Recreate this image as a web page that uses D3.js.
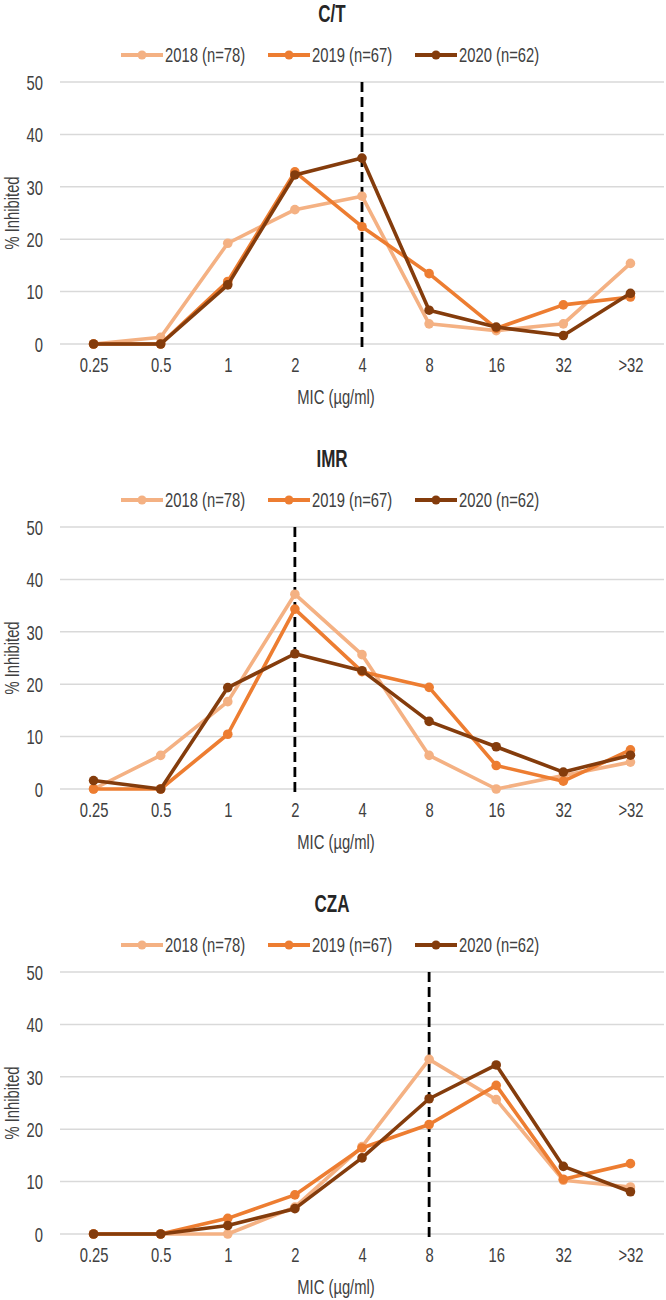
<!DOCTYPE html>
<html>
<head>
<meta charset="utf-8">
<script src="https://cdn.jsdelivr.net/npm/d3@7"></script>
<style>
  html, body { margin: 0; padding: 0; background: #fff; }
  svg { display: block; }
  text { font-family: "Liberation Sans", Arial, sans-serif; fill: #333; }
</style>
</head>
<body>
<svg id="chart" width="666" height="1300"></svg>
<script>
// ---------------- data ----------------
const categories = ["0.25", "0.5", "1", "2", "4", "8", "16", "32", ">32"];
const seriesNames = ["2018 (n=78)", "2019 (n=67)", "2020 (n=62)"];
const seriesColors = ["#F4B183", "#ED7D31", "#843C0C"];
const panelTitles = ["C/T", "IMR", "CZA"];
const breakpoints = ["4", "2", "8"];
const yTicks = [0, 10, 20, 30, 40, 50];
const xAxisTitle = "MIC (µg/ml)";
const yAxisTitle = "% Inhibited";

// C/T
const ct2018 = [0, 1.28, 19.23, 25.64, 28.21, 3.85, 2.56, 3.85, 15.38];
const ct2019 = [0, 0, 11.94, 32.84, 22.39, 13.43, 2.99, 7.46, 8.96];
const ct2020 = [0, 0, 11.29, 32.26, 35.48, 6.45, 3.23, 1.61, 9.68];
// IMR
const imr2018 = [0, 6.41, 16.67, 37.18, 25.64, 6.41, 0, 2.56, 5.13];
const imr2019 = [0, 0, 10.45, 34.33, 22.39, 19.40, 4.48, 1.49, 7.46];
const imr2020 = [1.61, 0, 19.35, 25.81, 22.58, 12.90, 8.06, 3.23, 6.45];
// CZA
const cza2018 = [0, 0, 0, 5.13, 16.67, 33.33, 25.64, 10.26, 8.97];
const cza2019 = [0, 0, 2.99, 7.46, 16.42, 20.90, 28.36, 10.45, 13.43];
const cza2020 = [0, 0, 1.61, 4.84, 14.52, 25.81, 32.26, 12.90, 8.06];

const panelData = [
  [ct2018, ct2019, ct2020],
  [imr2018, imr2019, imr2020],
  [cza2018, cza2019, cza2020]
];

// ---------------- layout ----------------
const SX = 0.74;           // narrow font look
const FS = 20;
const TXT = "#404040";
const panelH = 445;
const plotLeft = 60, plotRight = 664;
const plotTop = 82, plotBottom = 344;

const svg = d3.select("#chart");

const x = d3.scalePoint().domain(categories).range([plotLeft, plotRight]).padding(0.5);
const y = d3.scaleLinear().domain([0, 50]).range([plotBottom, plotTop]);

function ctext(g, tx, ty, str, opts = {}) {
  const rot = opts.rotate ? ` rotate(${opts.rotate})` : "";
  return g.append("text")
    .attr("transform", `translate(${tx},${ty})${rot} scale(${SX},1)`)
    .attr("text-anchor", opts.anchor || "middle")
    .attr("dominant-baseline", "central")
    .style("font-size", (opts.size || FS) + "px")
    .style("font-weight", opts.bold ? "bold" : "normal")
    .style("fill", opts.fill || TXT)
    .text(str);
}

panelData.forEach((series, pi) => {
  const g = svg.append("g").attr("transform", `translate(0,${pi * panelH})`);

  // title
  ctext(g, 332, 14, panelTitles[pi], { bold: true, size: 23, fill: "#262626" });

  // legend
  const legX = [121, 268, 415];
  seriesNames.forEach((name, si) => {
    const lg = g.append("g").attr("transform", `translate(${legX[si]},55)`);
    lg.append("line").attr("x1", 0).attr("x2", 42).attr("y1", 0).attr("y2", 0)
      .attr("stroke", seriesColors[si]).attr("stroke-width", 4);
    lg.append("circle").attr("cx", 21).attr("cy", 0).attr("r", 4.5).attr("fill", seriesColors[si]);
    ctext(lg, 44, 0, name, { anchor: "start" });
  });

  // gridlines
  g.append("g").selectAll("line").data(yTicks).join("line")
    .attr("x1", plotLeft).attr("x2", plotRight)
    .attr("y1", d => y(d)).attr("y2", d => y(d))
    .attr("stroke", "#D9D9D9").attr("stroke-width", 1.5);

  // y axis
  const ya = g.append("g").attr("transform", `translate(${plotLeft},0)`)
    .call(d3.axisLeft(y).tickValues(yTicks).tickSize(0).tickPadding(23));
  ya.select(".domain").remove();
  ya.selectAll("text")
    .style("font-size", FS + "px").style("font-family", '"Liberation Sans", Arial, sans-serif')
    .style("fill", TXT)
    .attr("dy", "0.36em")
    .attr("transform", `scale(${SX},1)`);

  // x axis
  const xa = g.append("g").attr("transform", `translate(0,${plotBottom})`)
    .call(d3.axisBottom(x).tickSize(0).tickPadding(14));
  xa.select(".domain").remove();
  xa.selectAll("text")
    .style("font-size", FS + "px").style("font-family", '"Liberation Sans", Arial, sans-serif')
    .style("fill", TXT)
    .attr("transform", `scale(${SX},1)`);

  // axis titles
  ctext(g, 336, 397, xAxisTitle);
  ctext(g, 12, (plotTop + plotBottom) / 2, yAxisTitle, { rotate: -90 });

  // breakpoint dashed line
  g.append("line")
    .attr("x1", x(breakpoints[pi])).attr("x2", x(breakpoints[pi]))
    .attr("y1", y(50)).attr("y2", y(0) + 3)
    .attr("stroke", "#000").attr("stroke-width", 2.8)
    .attr("stroke-dasharray", "10,5");

  // series
  const line = d3.line().x((d, i) => x(categories[i])).y(d => y(d));
  series.forEach((vals, si) => {
    const sg = g.append("g");
    sg.append("path").datum(vals).attr("d", line)
      .attr("fill", "none").attr("stroke", seriesColors[si])
      .attr("stroke-width", 3.6).attr("stroke-linejoin", "round");
    sg.selectAll("circle").data(vals).join("circle")
      .attr("cx", (d, i) => x(categories[i])).attr("cy", d => y(d))
      .attr("r", 4.8).attr("fill", seriesColors[si]);
  });
});
</script>
</body>
</html>
